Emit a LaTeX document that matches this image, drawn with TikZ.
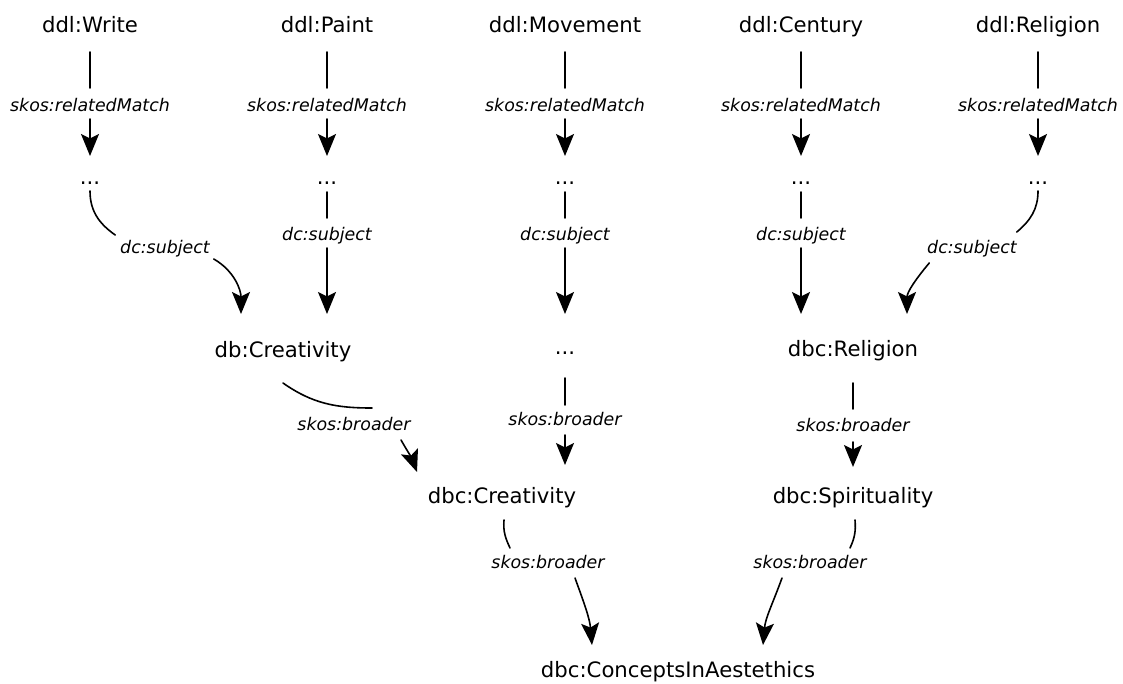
\documentclass[tikz,border=0pt]{standalone}
\usepackage{fontspec}
\setmainfont{DejaVu Sans}
\usetikzlibrary{arrows.meta}
\begin{document}
\begin{tikzpicture}[x=1pt,y=1pt,
  concept/.style={anchor=base,inner sep=0pt,outer sep=0pt,text height=16pt,text depth=4pt,
    font=\fontsize{21.2}{25}\selectfont},
  prop/.style={anchor=base,inner sep=0pt,outer sep=0pt,text height=13pt,text depth=4pt,
    font=\fontsize{17.4}{21}\selectfont\itshape},
  link/.style={line width=1.6pt,line cap=round},
  arrowlink/.style={link,-{Stealth[length=22pt,width=18pt,inset=4.5pt]}},
  gap/.style 2 args={shorten <=#1pt,shorten >=#2pt}
]
\useasboundingbox (0,0) rectangle (1123,-683);

% top row
\node[concept] (w) at (90,-32) {ddl:Write};
\node[concept] (p) at (327,-32) {ddl:Paint};
\node[concept] (m) at (565,-32) {ddl:Movement};
\node[concept] (c) at (801,-32) {ddl:Century};
\node[concept] (r) at (1038,-32) {ddl:Religion};

% relatedMatch labels and intermediate nodes
\foreach \n/\x in {1/90,2/327,3/565,4/801,5/1038}{
  \node[prop] (rm\n) at (\x,-111) {skos:relatedMatch};
  \node[concept] (d\n) at (\x,-184) {...};
}
\foreach \t/\n in {w/1,p/2,m/3,c/4,r/5}{
  \draw[link,gap={16}{10}] (\t) -- (rm\n);
  \draw[arrowlink,gap={4}{12}] (rm\n) -- (d\n);
}

% dc:subject labels
\node[prop] (s1) at (165,-253) {dc:subject};
\node[prop] (s2) at (327,-240) {dc:subject};
\node[prop] (s3) at (565,-240) {dc:subject};
\node[prop] (s4) at (801,-240) {dc:subject};
\node[prop] (s5) at (972,-253) {dc:subject};

% middle row
\node[concept] (cr) at (283,-357) {db:Creativity};
\node[concept] (dm) at (565,-354) {...};
\node[concept] (rel) at (853,-356) {dbc:Religion};

% dc:subject edges
\draw[link] ([yshift=-3pt]d1.south) to[out=-90,in=145] ([xshift=-5pt,yshift=5pt]s1.north west);
\draw[arrowlink] ([xshift=4pt,yshift=-2pt]s1.south east) to[out=-30,in=90] ([xshift=-42pt,yshift=27pt]cr.north);
\foreach \n in {2,3,4}{
  \draw[link,gap={4}{9}] (d\n) -- (s\n);
}
\draw[arrowlink,gap={4}{27}] (s2) -- ([xshift=44pt]cr.north);
\draw[arrowlink,gap={4}{24}] (s3) -- (dm);
\draw[arrowlink,gap={4}{26}] (s4) -- ([xshift=-52pt]rel.north);
\draw[link] ([yshift=-3pt]d5.south) to[out=-90,in=40] ([yshift=8pt]s5.north east);
\draw[arrowlink] ([xshift=2pt,yshift=-6pt]s5.south west) to[out=-130,in=90] ([xshift=54pt,yshift=26pt]rel.north);

% skos:broader, upper level
\node[prop] (b1) at (354,-430) {skos:broader};
\node[prop] (b2) at (565,-425) {skos:broader};
\node[prop] (b3) at (853,-431) {skos:broader};

\node[concept] (cc) at (502,-503) {dbc:Creativity};
\node[concept] (sp) at (853,-503) {dbc:Spirituality};

\draw[link] ([yshift=-22pt]cr.south) to[out=-35,in=180] ([xshift=18pt,yshift=9pt]b1.north);
\draw[arrowlink] ([xshift=47pt,yshift=-6pt]b1.south) to[out=-60,in=110] ([xshift=-85pt,yshift=15pt]cc.north);
\draw[link,gap={20}{7}] (dm) -- (b2);
\draw[arrowlink,gap={6}{22}] (b2) -- ([xshift=63pt]cc.north);
\draw[link,gap={23}{9}] (rel) -- (b3);
\draw[arrowlink,gap={7}{20}] (b3) -- (sp);

% skos:broader, lower level
\node[prop] (b4) at (548,-568) {skos:broader};
\node[prop] (b5) at (810,-568) {skos:broader};
\node[concept] (ci) at (678,-677) {dbc:ConceptsInAestethics};

\draw[link] ([xshift=2pt,yshift=-13pt]cc.south) to[out=-95,in=115] ([xshift=-38pt,yshift=7pt]b4.north);
\draw[arrowlink] ([xshift=27pt,yshift=-6pt]b4.south) to[out=-70,in=95] ([xshift=-86pt,yshift=16pt]ci.north);
\draw[link] ([xshift=2pt,yshift=-13pt]sp.south) to[out=-85,in=65] ([xshift=40pt,yshift=7pt]b5.north);
\draw[arrowlink] ([xshift=-28pt,yshift=-6pt]b5.south) to[out=-110,in=85] ([xshift=85pt,yshift=16pt]ci.north);
\end{tikzpicture}
\end{document}
